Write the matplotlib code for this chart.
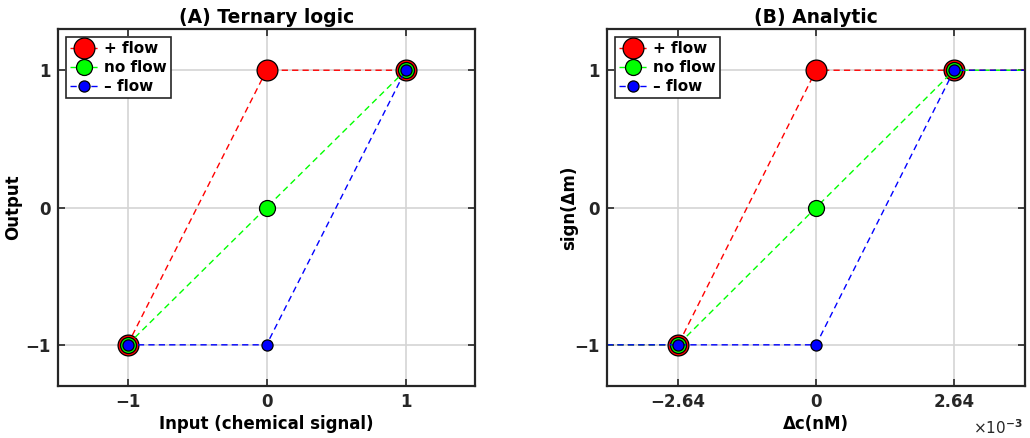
import numpy as np
import matplotlib
matplotlib.use('Agg')
import matplotlib.pyplot as plt

plt.rcParams['font.family'] = ['DejaVu Sans']
plt.rcParams['font.weight'] = 'bold'

#---------data------
x_logic = [-1, 0, 1]
plus_logic = [-1, 1, 1]
none_logic = [-1, 0, 1]
minus_logic = [-1, -1, 1]

dc = np.array([-4.0, -2.64, 0.0, 2.64, 4.0])*1e-3
plus_an = [-1, -1, 1, 1, 1]
none_an = [-1, -1, 0, 1, 1]
minus_an = [-1, -1, -1, 1, 1]

labels = ['+ flow', 'no flow', '– flow']
colors = ['#ff0000', '#00ff00', '#0000ff']
msizes = [15, 11.5, 8]

def style_axes(ax):
    for s in ax.spines.values():
        s.set_linewidth(1.6)
        s.set_color('#262626')
    ax.tick_params(direction='in', top=True, right=True, length=5, width=1.2,
                   labelsize=12, colors='#262626', pad=5)
    for t in ax.get_xticklabels()+ax.get_yticklabels():
        t.set_fontweight('bold')
    ax.grid(True, color='#d4d4d4', lw=1.2)
    ax.set_axisbelow(True)

def draw(ax, x, series, markevery=None):
    for y, c, ms, lab in zip(series, colors, msizes, labels):
        ax.plot(x, y, ls=(0, (4.5, 3)), lw=1, color=c, marker='o', ms=ms,
                mfc=c, mec='k', mew=0.9, label=lab, markevery=markevery)
    leg = ax.legend(loc='upper left', fontsize=11, handlelength=1.8, handletextpad=0.4,
                    borderpad=0.3, labelspacing=0.25, fancybox=False, framealpha=1,
                    borderaxespad=0.5)
    leg.get_frame().set_edgecolor('#262626')
    leg.get_frame().set_linewidth(1.2)
    for t in leg.get_texts():
        t.set_fontweight('bold')

fig = plt.figure(figsize=(10.3, 4.38), dpi=100)

ax1 = fig.add_axes([0.0563, 0.1187, 0.405, 0.815])
draw(ax1, x_logic, [plus_logic, none_logic, minus_logic])
ax1.set_xlim(-1.5, 1.5)
ax1.set_ylim(-1.3, 1.3)
ax1.set_xticks([-1, 0, 1])
ax1.set_xticklabels(['−1', '0', '1'])
ax1.set_yticks([-1, 0, 1])
ax1.set_yticklabels(['−1', '0', '1'])
style_axes(ax1)
ax1.set_title('(A) Ternary logic', fontsize=13.5, fontweight='bold', pad=4)
ax1.set_xlabel('Input (chemical signal)', fontsize=12, fontweight='bold', labelpad=3)
ax1.set_ylabel('Output', fontsize=12, fontweight='bold')
ax1.yaxis.set_label_coords(-0.086, 0.5)

ax2 = fig.add_axes([0.5893, 0.1187, 0.406, 0.815])
draw(ax2, dc, [plus_an, none_an, minus_an], markevery=[1, 2, 3])
ax2.set_xlim(-4e-3, 4e-3)
ax2.set_ylim(-1.3, 1.3)
ax2.set_xticks([-2.64e-3, 0, 2.64e-3])
ax2.set_xticklabels(['−2.64', '0', '2.64'])
ax2.set_yticks([-1, 0, 1])
ax2.set_yticklabels(['−1', '0', '1'])
style_axes(ax2)
ax2.set_title('(B) Analytic', fontsize=13.5, fontweight='bold', pad=4)
ax2.set_xlabel('Δc(nM)', fontsize=12, fontweight='bold', labelpad=3)
ax2.set_ylabel('sign(Δm)', fontsize=12, fontweight='bold')
ax2.yaxis.set_label_coords(-0.069, 0.5)
ax2.text(0.995, -0.118, '×10$^{-3}$', transform=ax2.transAxes, ha='right', va='center',
         fontsize=11, fontweight='normal', color='#262626')

fig.savefig('out.png', dpi=100)
